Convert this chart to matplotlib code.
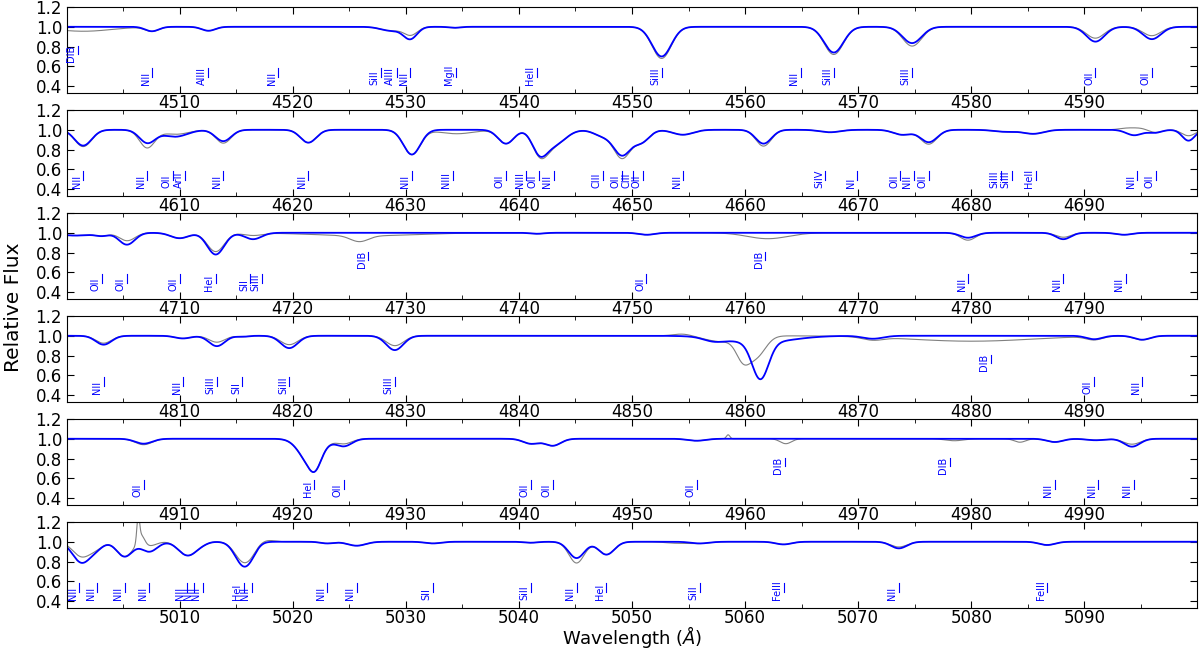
#!/usr/bin/env python

import numpy as np
import matplotlib.pyplot as plt
from matplotlib.ticker import MultipleLocator

# each panel covers 100 A starting here
panel_starts = [4500, 4600, 4700, 4800, 4900, 5000]

# model absorption lines: (centre A, depth, sigma A)
model_lines_1 = [(4507.56, 0.045, 0.6), (4512.56, 0.04, 0.6), (4528.7, 0.04, 0.9),
                 (4530.4, 0.12, 0.6), (4534.3, 0.01, 0.5), (4552.62, 0.30, 0.85),
                 (4567.84, 0.26, 0.85), (4574.76, 0.165, 0.85), (4590.97, 0.15, 0.8),
                 (4595.96, 0.125, 0.8)]
model_lines_2 = [(4601.48, 0.16, 0.75), (4607.15, 0.13, 0.7), (4609.6, 0.07, 1.1),
                 (4613.87, 0.115, 0.7), (4621.39, 0.13, 0.7), (4630.54, 0.25, 0.75),
                 (4638.86, 0.14, 0.7), (4641.81, 0.20, 0.65), (4643.09, 0.15, 1.0),
                 (4647.42, 0.06, 0.8), (4649.13, 0.25, 0.75), (4650.84, 0.12, 0.7),
                 (4654.5, 0.05, 0.9), (4661.63, 0.14, 0.7), (4667.5, 0.025, 0.9),
                 (4673.9, 0.05, 0.8), (4676.24, 0.125, 0.75), (4683.0, 0.02, 1.0),
                 (4685.5, 0.04, 0.9), (4694.4, 0.055, 0.7), (4696.2, 0.03, 0.6),
                 (4699.2, 0.11, 0.55)]
model_lines_3 = [(4700.8, 0.028, 1.5), (4703.16, 0.025, 0.55), (4705.35, 0.12, 0.7),
                 (4710.01, 0.055, 0.8), (4713.2, 0.22, 0.75), (4716.5, 0.065, 0.75),
                 (4741.6, 0.01, 0.6), (4751.3, 0.02, 0.7), (4779.7, 0.05, 0.7),
                 (4788.13, 0.065, 0.65), (4793.5, 0.02, 0.7)]
model_lines_4 = [(4803.29, 0.09, 0.7), (4810.3, 0.027, 0.7), (4813.3, 0.105, 0.7),
                 (4815.55, 0.01, 0.5), (4819.7, 0.125, 0.75), (4829.03, 0.145, 0.75),
                 (4857.2, 0.035, 0.9), (4861.35, 0.37, 0.72), (4861.2, 0.07, 2.8),
                 (4871.3, 0.03, 0.9), (4890.86, 0.035, 0.7), (4895.1, 0.04, 0.7)]
model_lines_5 = [(4906.83, 0.05, 0.75), (4921.6, 0.25, 0.95), (4922.0, 0.10, 0.5),
                 (4924.53, 0.075, 0.7), (4941.07, 0.05, 0.7), (4943.0, 0.07, 0.7),
                 (4955.71, 0.02, 0.8), (4987.38, 0.033, 0.7), (4991.0, 0.015, 0.8),
                 (4994.2, 0.08, 0.7)]
model_lines_6 = [(5001.35, 0.21, 0.8), (5002.7, 0.05, 0.6), (5005.15, 0.15, 0.7),
                 (5007.33, 0.10, 0.7), (5010.62, 0.13, 0.75), (5011.3, 0.02, 0.5),
                 (5012.04, 0.02, 0.5), (5015.68, 0.24, 0.75), (5016.39, 0.03, 0.5),
                 (5023.05, 0.017, 0.6), (5025.66, 0.04, 0.8), (5032.4, 0.017, 0.7),
                 (5041.03, 0.01, 0.6), (5045.1, 0.165, 0.7), (5047.74, 0.13, 0.7),
                 (5056.0, 0.017, 0.8), (5063.4, 0.027, 0.7), (5073.59, 0.067, 0.7),
                 (5086.7, 0.033, 0.7)]

# where the observed spectrum differs from the model (extra depth, <0 = higher)
obs_diff_1 = [(4501.5, 0.045, 2.5), (4530.3, -0.04, 0.6), (4552.6, 0.02, 0.8),
              (4567.8, 0.02, 0.8), (4574.8, 0.03, 0.8), (4591.0, -0.035, 0.8),
              (4596.0, -0.035, 0.8)]
obs_diff_2 = [(4601.5, 0.01, 0.7), (4607.1, 0.05, 0.6), (4609.5, -0.025, 1.0),
              (4613.9, 0.02, 0.6), (4634.5, 0.04, 1.5), (4642.3, 0.02, 0.6),
              (4649.1, 0.03, 0.6), (4661.6, 0.025, 0.6), (4676.2, 0.02, 0.6),
              (4694.4, -0.075, 0.8), (4699.2, -0.05, 0.5)]
obs_diff_3 = [(4705.3, -0.04, 0.7), (4713.2, -0.03, 0.7), (4716.5, -0.04, 0.7),
              (4725.9, 0.06, 0.8), (4726.5, 0.03, 4.5), (4762.0, 0.06, 1.8),
              (4779.7, 0.025, 0.6), (4788.1, -0.02, 0.6)]
obs_diff_4 = [(4803.3, -0.015, 0.7), (4813.3, -0.04, 0.7), (4819.7, -0.035, 0.7),
              (4829.0, -0.045, 0.7), (4854.5, -0.02, 0.8),
              (4861.35, -0.37, 0.72), (4861.2, -0.07, 2.8), (4857.2, -0.035, 0.9),
              (4859.8, 0.19, 0.6), (4861.0, 0.20, 0.8), (4858.0, 0.06, 1.5),
              (4880.0, 0.055, 5.5)]
obs_diff_5 = [(4906.8, 0.01, 0.7), (4924.5, -0.025, 0.7), (4958.5, -0.04, 0.15),
              (4963.6, 0.05, 0.5), (4978.5, 0.02, 0.8), (4984.3, 0.035, 0.5),
              (4994.2, -0.025, 0.6)]
obs_diff_6 = [(5001.3, -0.06, 0.8), (5006.35, -0.24, 0.12), (5006.6, -0.10, 0.3),
              (5007.3, -0.06, 0.8), (5015.7, -0.04, 0.7), (5017.8, -0.015, 0.6),
              (5045.1, 0.05, 0.6), (5054.0, 0.015, 1.0), (5073.6, -0.014, 0.6)]

# line identifications
labels_1 = [("DIB", 4501.0), ("NII", 4507.56), ("AlIII", 4512.56), ("NII", 4518.7),
            ("SiII", 4527.8), ("AlIII", 4529.19), ("NII", 4530.41), ("MgII", 4534.4),
            ("HeII", 4541.59), ("SiIII", 4552.62), ("NII", 4564.9), ("SiIII", 4567.84),
            ("SiIII", 4574.76), ("OII", 4590.97), ("OII", 4595.96)]
labels_2 = [("NII", 4601.48), ("NII", 4607.15), ("OII", 4609.44), ("ArII", 4610.5),
            ("NII", 4613.87), ("NII", 4621.39), ("NII", 4630.54), ("NIII", 4634.14),
            ("OII", 4638.86), ("NIII", 4640.64), ("OII", 4641.81), ("NII", 4643.09),
            ("CIII", 4647.42), ("OII", 4649.13), ("CIII", 4650.1), ("OII", 4650.95),
            ("NII", 4654.53), ("SiIV", 4667.1), ("NI", 4669.9), ("OII", 4673.73),
            ("NII", 4674.91), ("OII", 4676.24), ("SiIII", 4682.6), ("SiIII", 4683.6),
            ("HeII", 4685.7), ("NII", 4694.64), ("OII", 4696.35)]
labels_3 = [("OII", 4703.16), ("OII", 4705.35), ("OII", 4710.01), ("HeI", 4713.2),
            ("SII", 4716.27), ("SiIII", 4717.3), ("DIB", 4726.7), ("OII", 4751.28),
            ("DIB", 4761.8), ("NII", 4779.72), ("NII", 4788.13), ("NII", 4793.65)]
labels_4 = [("NII", 4803.29), ("NII", 4810.3), ("SiIII", 4813.3), ("SII", 4815.55),
            ("SiIII", 4819.72), ("SiIII", 4829.03), ("DIB", 4881.7), ("OII", 4890.86),
            ("NII", 4895.1)]
labels_5 = [("OII", 4906.83), ("HeI", 4921.93), ("OII", 4924.53), ("OII", 4941.07),
            ("OII", 4943.0), ("OII", 4955.71), ("DIB", 4963.5), ("DIB", 4978.1),
            ("NII", 4987.38), ("NII", 4991.24), ("NII", 4994.36)]
labels_6 = [("NII", 5001.13), ("NII", 5002.7), ("NII", 5005.15), ("NII", 5007.33),
            ("NII", 5010.62), ("NII", 5011.3), ("NII", 5012.04), ("HeI", 5015.68),
            ("NII", 5016.39), ("NII", 5023.05), ("NII", 5025.66), ("SII", 5032.4),
            ("SiII", 5041.03), ("NII", 5045.1), ("HeI", 5047.74), ("SiII", 5056.0),
            ("FeIII", 5063.4), ("NII", 5073.59), ("FeIII", 5086.7)]

model_lines = [model_lines_1, model_lines_2, model_lines_3,
               model_lines_4, model_lines_5, model_lines_6]
obs_diffs = [obs_diff_1, obs_diff_2, obs_diff_3, obs_diff_4, obs_diff_5, obs_diff_6]
labels = [labels_1, labels_2, labels_3, labels_4, labels_5, labels_6]


def spectrum(wave, lines):
    flux = np.ones_like(wave)
    for c, d, s in lines:
        flux -= d * np.exp(-0.5 * ((wave - c) / s) ** 2)
    return flux


def main():
    fig = plt.figure(figsize=(12, 6.51), dpi=100)

    for i, start in enumerate(panel_starts):
        ax = fig.add_axes([0.0558, 0.8571 - i * 0.1582, 0.9417, 0.1321])
        wave = np.arange(start, start + 100.001, 0.01)
        model = spectrum(wave, model_lines[i])
        obs = spectrum(wave, model_lines[i] + obs_diffs[i])

        ax.plot(wave, obs, color='gray', lw=0.8)
        ax.plot(wave, model, color='blue', lw=1.3)

        for name, wl in labels[i]:
            y0 = 0.64 if name == 'DIB' else 0.41
            ax.plot([wl, wl], [y0 + 0.08, y0 + 0.17], color='blue', lw=0.8)
            ax.annotate(name, (wl, y0), xytext=(-1.0, 0), textcoords='offset points',
                        rotation=90, ha='right', va='bottom', fontsize=7, color='blue')

        ax.set_xlim(start + 0.05, start + 99.95)
        ax.set_ylim(0.33, 1.2)
        ax.xaxis.set_major_locator(MultipleLocator(10))
        ax.xaxis.set_minor_locator(MultipleLocator(5))
        ax.set_yticks([0.4, 0.6, 0.8, 1.0, 1.2])
        ax.tick_params(which='both', direction='in', top=True, right=True, labelsize=12)
        ax.tick_params(axis='x', pad=1)
        ax.tick_params(which='major', length=5)
        ax.tick_params(which='minor', length=3)

    fig.text(0.527, 0.001, r'Wavelength ($\AA$)', ha='center', va='bottom', fontsize=13)
    fig.text(0.011, 0.528, 'Relative Flux', ha='center', va='center',
             rotation=90, fontsize=14.5)

    plt.savefig('out.png', dpi=100)


if __name__ == "__main__":
    main()
